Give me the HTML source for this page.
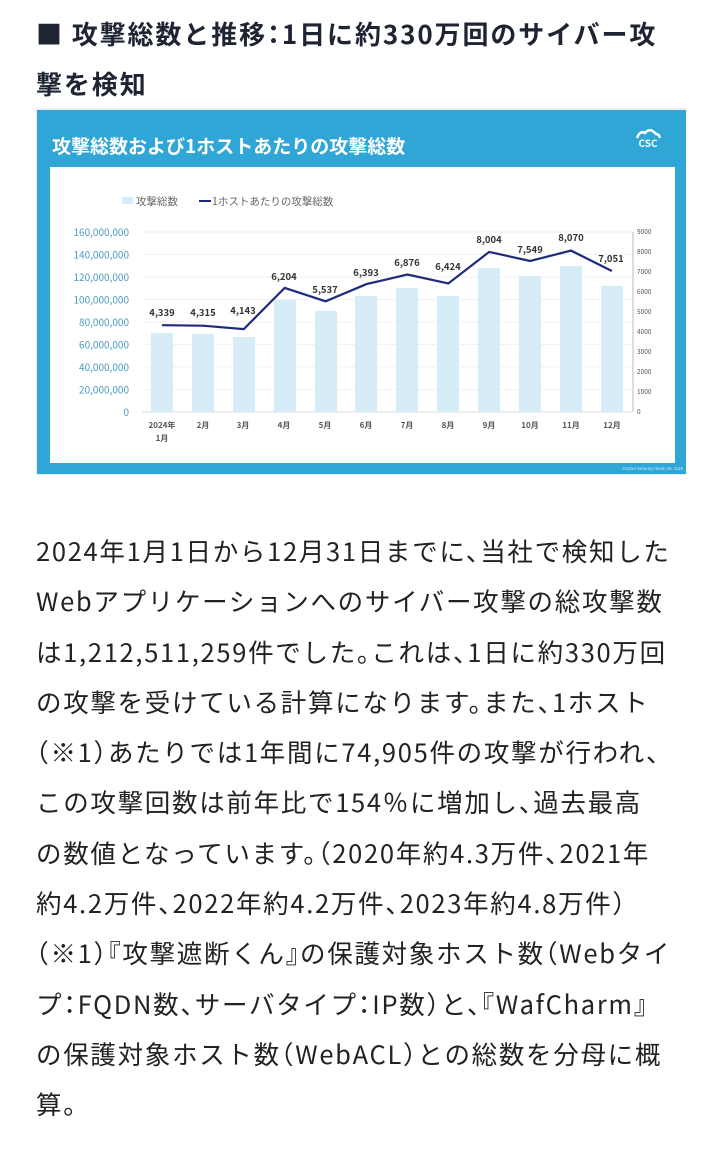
<!DOCTYPE html>
<html><head><meta charset="utf-8">
<style>
html,body{margin:0;padding:0;background:#fff;width:720px;height:1150px;overflow:hidden}
body{font-family:"Noto Sans CJK JP","Liberation Sans",sans-serif;color:#1f2433}
.h{position:absolute;left:36px;top:9px;font-size:26px;font-weight:bold;line-height:50px;white-space:nowrap;letter-spacing:1.9px;font-feature-settings:"halt"}
.p{position:absolute;left:36px;top:526px;font-size:25.5px;line-height:50.3px;white-space:nowrap;color:#222;letter-spacing:1.7px;font-feature-settings:"halt"}
svg{position:absolute;left:0;top:0}
</style></head><body>
<div class="h">■ 攻撃総数と推移：1日に約330万回のサイバー攻<br>撃を検知</div>
<svg width="720" height="500" viewBox="0 0 720 500" font-family="'Noto Sans CJK JP','Liberation Sans',sans-serif">
<rect x="36" y="108" width="650" height="367" fill="#e8eef2"/>
<rect x="37" y="110" width="649" height="364" fill="#2fa6d6"/>
<rect x="50" y="167" width="625" height="296" fill="#fff"/>
<text x="52" y="153" font-size="19" font-weight="bold" fill="#fff">攻撃総数および1ホストあたりの攻撃総数</text>
<text x="648" y="147" font-size="10" font-weight="bold" fill="#fff" text-anchor="middle">CSC</text>
<path d="M637 138 Q640 130 645 133 Q650 127 656 134 Q659 134 660 138" stroke="#fff" stroke-width="2.5" fill="none"/>
<text x="683" y="470" font-size="4" fill="#d8eef8" text-anchor="end">©Cyber Security Cloud, Inc. 2025</text>
<rect x="122" y="197" width="11" height="7" fill="#d6ecf7"/>
<text x="136" y="205" font-size="10.5" fill="#666">攻撃総数</text>
<line x1="199" y1="201" x2="211" y2="201" stroke="#1f2a7a" stroke-width="2"/>
<text x="212" y="205" font-size="10.5" fill="#666">1ホストあたりの攻撃総数</text>
<g stroke="#f1f1f1" stroke-width="1">
<line x1="142" y1="232" x2="632" y2="232"/><line x1="142" y1="254.5" x2="632" y2="254.5"/><line x1="142" y1="277" x2="632" y2="277"/><line x1="142" y1="299.5" x2="632" y2="299.5"/><line x1="142" y1="322" x2="632" y2="322"/><line x1="142" y1="344.5" x2="632" y2="344.5"/><line x1="142" y1="367" x2="632" y2="367"/><line x1="142" y1="389.5" x2="632" y2="389.5"/>
</g>
<line x1="142" y1="412" x2="632" y2="412" stroke="#ddd"/>
<line x1="633" y1="232" x2="633" y2="412" stroke="#bbb"/>
<g font-size="10" fill="#4a9bc0" text-anchor="end">
<text x="129" y="236">160,000,000</text><text x="129" y="258.5">140,000,000</text><text x="129" y="281">120,000,000</text><text x="129" y="303.5">100,000,000</text><text x="129" y="326">80,000,000</text><text x="129" y="348.5">60,000,000</text><text x="129" y="371">40,000,000</text><text x="129" y="393.5">20,000,000</text><text x="129" y="416">0</text>
</g>
<g font-size="6.5" fill="#555">
<text x="637" y="234">9000</text><text x="637" y="254">8000</text><text x="637" y="274">7000</text><text x="637" y="294">6000</text><text x="637" y="314">5000</text><text x="637" y="334">4000</text><text x="637" y="354">3000</text><text x="637" y="374">2000</text><text x="637" y="394">1000</text><text x="637" y="414">0</text>
</g>
<g fill="#d6ecf7">
<rect x="151" y="333" width="22" height="79"/><rect x="192" y="334" width="22" height="78"/><rect x="233" y="337" width="22" height="75"/><rect x="274" y="300" width="22" height="112"/><rect x="315" y="311" width="22" height="101"/><rect x="355" y="296" width="22" height="116"/><rect x="396" y="288" width="22" height="124"/><rect x="437" y="296" width="22" height="116"/><rect x="478" y="268" width="22" height="144"/><rect x="519" y="276" width="22" height="136"/><rect x="560" y="266" width="22" height="146"/><rect x="601" y="286" width="22" height="126"/>
</g>
<polyline fill="none" stroke="#1f2a7a" stroke-width="2.2" points="162,325.2 202.9,325.7 243.8,329.1 284.7,287.9 325.6,301.3 366.5,284.1 407.4,274.5 448.3,283.5 489.2,251.9 530.1,261 571,250.6 611.9,271"/>
<g font-size="9.5" font-weight="bold" fill="#333" text-anchor="middle">
<text x="162" y="316">4,339</text><text x="203" y="316">4,315</text><text x="243" y="314">4,143</text><text x="284" y="280">6,204</text><text x="325" y="293">5,537</text><text x="366" y="276">6,393</text><text x="407" y="266">6,876</text><text x="448" y="270">6,424</text><text x="489" y="243">8,004</text><text x="530" y="253">7,549</text><text x="571" y="241">8,070</text><text x="611" y="262">7,051</text>
</g>
<g font-size="8" font-weight="bold" fill="#555" text-anchor="middle">
<text x="162" y="428">2024年</text><text x="162" y="441">1月</text><text x="203" y="428">2月</text><text x="243" y="428">3月</text><text x="284" y="428">4月</text><text x="325" y="428">5月</text><text x="366" y="428">6月</text><text x="407" y="428">7月</text><text x="448" y="428">8月</text><text x="489" y="428">9月</text><text x="530" y="428">10月</text><text x="571" y="428">11月</text><text x="612" y="428">12月</text>
</g>
</svg>
<div class="p">2024年1月1日から12月31日までに、当社で検知した<br>Webアプリケーションへのサイバー攻撃の総攻撃数<br>は1,212,511,259件でした。これは、1日に約330万回<br>の攻撃を受けている計算になります。また、1ホスト<br>（※1）あたりでは1年間に74,905件の攻撃が行われ、<br>この攻撃回数は前年比で154％に増加し、過去最高<br>の数値となっています。（2020年約4.3万件、2021年<br>約4.2万件、2022年約4.2万件、2023年約4.8万件）<br>（※1）『攻撃遮断くん』の保護対象ホスト数（Webタイ<br>プ：FQDN数、サーバタイプ：IP数）と、『WafCharm』<br>の保護対象ホスト数（WebACL）との総数を分母に概<br>算。</div>
</body></html>
